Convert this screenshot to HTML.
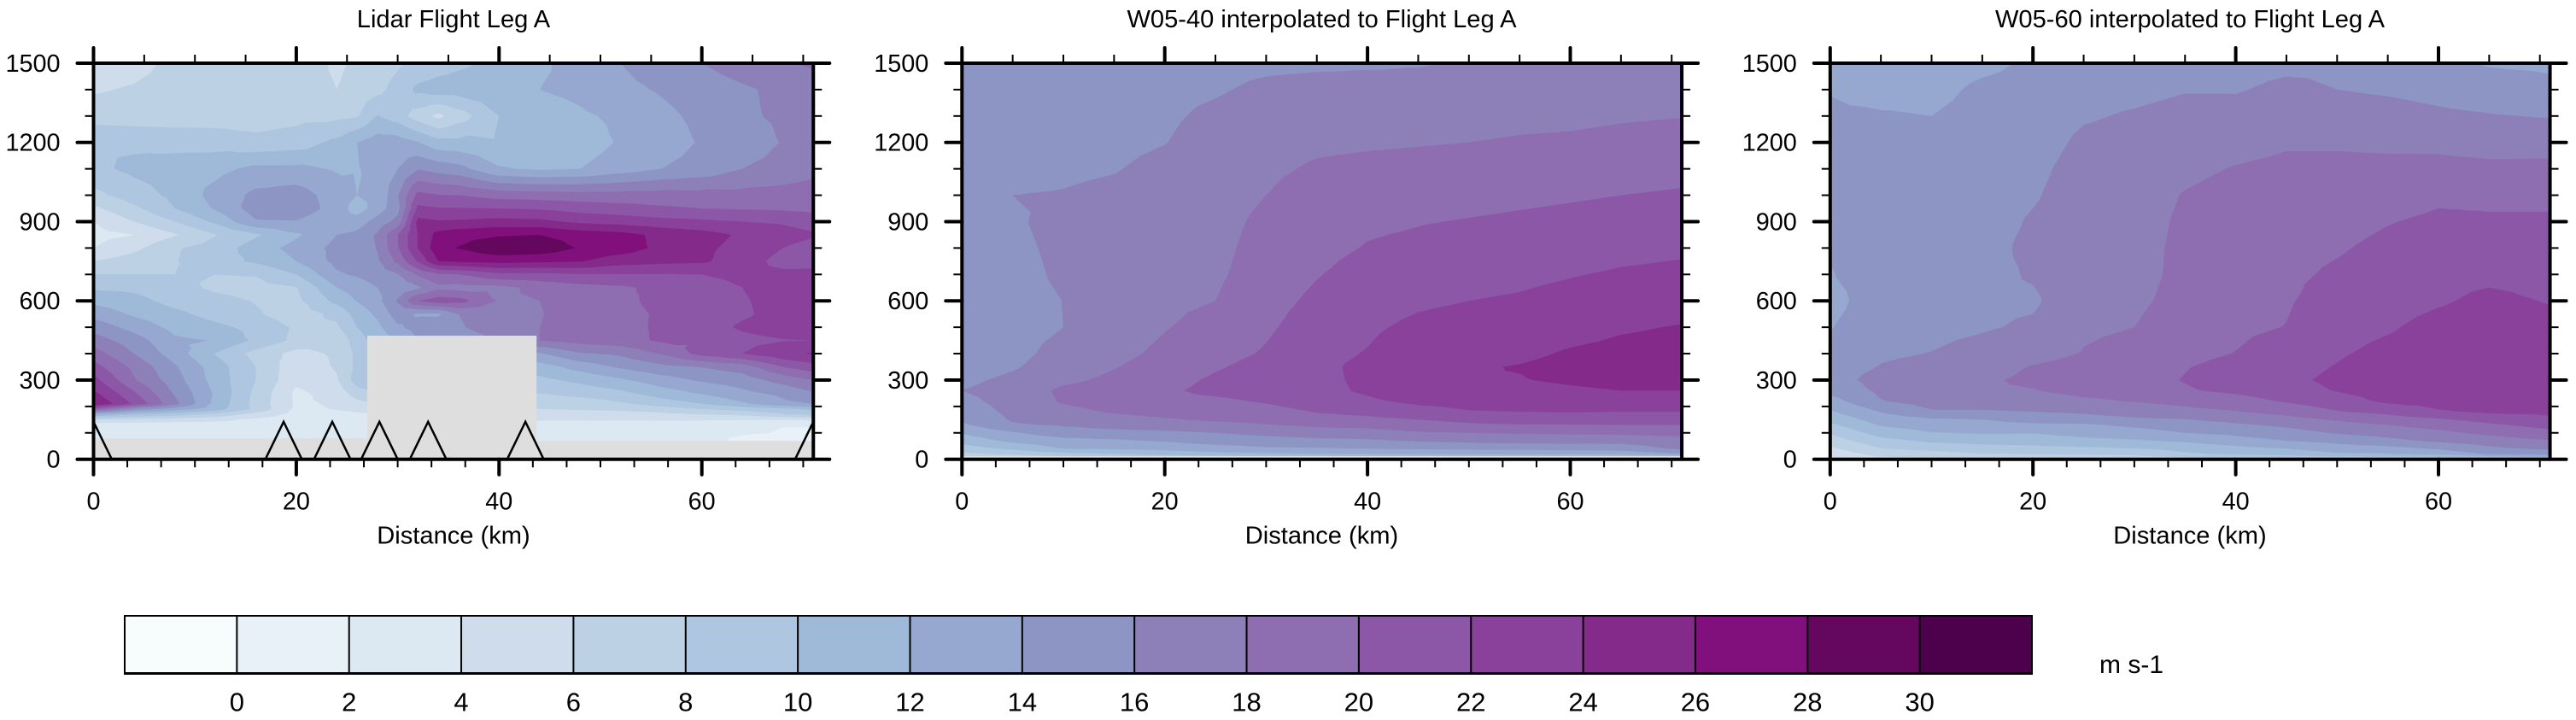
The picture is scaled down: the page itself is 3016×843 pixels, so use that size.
<!DOCTYPE html>
<html lang="en">
<head>
<meta charset="utf-8">
<title>Lidar and W05 wind speed cross sections, Flight Leg A</title>
<style>
html,body{margin:0;padding:0;background:#fff;width:3016px;height:843px;overflow:hidden}
svg{display:block}
text{font-family:"Liberation Sans",Arial,sans-serif;fill:#000}
</style>
</head>
<body>
<svg id="figure" xmlns="http://www.w3.org/2000/svg" width="3016" height="843" viewBox="0 0 3016 843">
  <g id="panel-0">
    <text x="531" y="32" font-size="29.1" text-anchor="middle">Lidar Flight Leg A</text>
    <text x="531" y="636.5" font-size="29.1" text-anchor="middle">Distance (km)</text>
  </g>
  <g id="panel-1">
    <text x="1547.5" y="32" font-size="29.1" text-anchor="middle">W05-40 interpolated to Flight Leg A</text>
    <text x="1547.5" y="636.5" font-size="29.1" text-anchor="middle">Distance (km)</text>
  </g>
  <g id="panel-2">
    <text x="2564" y="32" font-size="29.1" text-anchor="middle">W05-60 interpolated to Flight Leg A</text>
    <text x="2564" y="636.5" font-size="29.1" text-anchor="middle">Distance (km)</text>
  </g>
  <g id="colorbar">
    <text x="2458" y="788" font-size="30">m s-1</text>
  </g>
</svg>
<script>
// ---------- shared scale data ----------
const contourLevels = [0,2,4,6,8,10,12,14,16,18,20,22,24,26,28,30];
const bandColors = ['#f7fcfd','#e9f1f8','#dde9f2','#cedcec','#bdd1e5','#aec6df','#9fbad8','#96a8cf','#8d95c4','#8d80b9','#8e6db0','#8c57a7','#8a419b','#842a8b','#810f7c','#65065f','#4d004b'];
const xMajorTicks = [0,20,40,60];
const xMinorTicksTop = [5,10,15,25,30,35,45,50,55,65,70];
const xMinorTicksBottom = [3.333,6.667,10,13.333,16.667,23.333,26.667,30,33.333,36.667,43.333,46.667,50,53.333,56.667,63.333,66.667,70];
const yMajorTicks = [0,300,600,900,1200,1500];
const yMinorTicks = [100,200,400,500,700,800,1000,1100,1300,1400];
const colorbarTickLabels = ['0','2','4','6','8','10','12','14','16','18','20','22','24','26','28','30'];

// ---------- lidar panel data (rows by altitude, columns by distance) ----------
const lidarDistances = [0,4,8,12,16,20,24,26,28,30,32,34,36,40,44,48,52,56,60,64,68,71];
const lidarAltitudes = [1500,1400,1300,1200,1100,1000,950,900,850,800,750,700,650,600,550,500,450,400,350,300,250,210,190,170,150,135,80,60];
const lidarSpeedRows = [
[5,5.3,6.5,7,7.3,7.8,5.5,6.5,7,7.7,8.3,9,9.6,10.5,11.7,12.7,14,15,16,17,17.8,18.3],
[5.8,6.2,6.8,7,7.2,7.4,6,7,7.5,8.7,10.5,11,11,11.5,12,12.5,13.5,14.2,15,15.7,16.5,17],
[7,7,7,7,7,7.4,7.5,7.8,10.1,9,7,5.5,7,10,11,11.7,12.4,13.5,14.5,15.7,16.3,16.8],
[10,9.6,9.3,9.2,8.6,9,10.5,12,13,13,12.1,10.7,10.6,10.2,10.5,11,12.2,13,14.2,15,16.1,16.7],
[9.5,10.5,11,11.4,12.5,12.5,11.8,11.9,12.5,14,15.9,15.2,14.7,12.2,11.7,12,13,14,14.7,16,16.6,17.5],
[7.4,9,10.5,12.7,14.5,15,13,12,12.1,15.9,20.6,20.1,20,19.2,19,18.8,18.8,18.9,18.8,18.7,18.9,18.9],
[5.6,7.6,10,12.2,15,15.2,13.2,11,13,15.3,22.5,22.1,22.1,22,21.8,21.2,20.8,20.3,20,19.8,19.7,19.5],
[4,6,8,10.4,13.8,13.9,12.5,13,14.8,16.7,24.6,24.2,24.3,24.7,24.5,23.6,23.2,22.7,22.4,22,21.7,21],
[3.4,4,5.8,7.9,9.7,11.7,14,14.5,16.3,20,24.1,26.7,27.3,27.8,28,27.2,26.7,25.5,24.8,23.7,23,22.3],
[4,5.5,7.8,8.8,11,12.7,14.6,15,16.1,19.8,24.1,27.3,28.1,29.6,29.4,27.8,27,25.5,24.4,23.4,22,21],
[6,7,7.9,9.2,10.3,12,14.6,15,15.7,18.5,22.3,26,26.3,26.7,26.4,26.1,24.9,24.5,24.3,23,21.3,21],
[8,8,8,8,8.1,10,13.7,14.3,15,15.9,18.3,19.7,20,21.5,21.5,21.9,21.9,21.9,22,22.4,22.5,22.8],
[9.7,9.5,8.6,7.7,7.4,7.9,12,12.8,14,14.6,15.7,17.5,17.3,17.5,18.5,19.3,19.7,20.5,21.3,22,23,23.3],
[11.5,10.7,9.3,8.5,7.9,7.5,10.6,12.1,13.4,16.2,20,21,20.8,17.8,18,18.9,19.3,20.8,21,21.8,22.8,23],
[13.3,11.7,10.5,9.3,8.2,7,8.5,10.8,12.4,15,13.8,13.7,16,17,17.9,18.8,19.3,20.3,21,21.7,22.7,23.2],
[15.2,13.3,11.4,10.5,9.4,7.7,7.7,10,11.5,13.7,14.7,15.3,15.8,17,18,18.7,19.4,20.3,21,22.3,23,23],
[17,14.9,12.4,11.9,9.6,7.5,6.5,9,11,12,14,14.5,15,16,18,18.8,19.2,20.3,20.3,21.4,21.9,22],
[18.9,16,13,9.9,7.3,5.3,6.3,8.5,10,11,12,12.5,13,13.5,13.8,15.8,16.4,18.2,20.7,22,23.5,24.2],
[20.8,17.5,14.3,11,8,4.6,6.2,8.5,10,10.5,11,11,11,11,11.1,12.8,14.3,15.5,16.1,17,20,21.2],
[22.7,18.2,14.9,11.2,8,4.4,5.8,9,10,10,10,10,10,9.5,9.5,10.5,11.7,13.1,14.3,15,16.8,18],
[24.5,20.3,15.8,11.7,7.5,3.6,4.8,7,8,8,8,8,8,8,8,8.7,9.5,11,12.2,13.5,14.5,15.8],
[26,21.7,16.6,11.5,7.3,3.7,4.2,5.3,6,6,6,6,6,6,6.5,6.8,7.7,8.9,10,11.7,13.5,14],
[20,15,13,11,7.5,3.6,4.1,4.6,5,5,5,5,5,5,6,6.2,6.5,7,8,8.7,9.5,10.5],
[12,10,9,7.5,5.2,3.3,3.4,3.6,4,4,4,4,4,4,5,5,5,5.5,6,6.5,7.8,8.5],
[6,5.5,5,4.5,3.6,3.2,3.2,3.2,3.3,3.3,3.3,3.3,3.3,3.3,4.1,4.1,4.1,4.1,4.1,4.1,4.1,4.6],
[3.5,3.5,3.5,3.5,3.5,3.5,3.5,3.5,3.5,3.5,3.5,3.5,3.5,3.5,3.7,3.7,3.7,3.7,3.7,3,2.1,2.1],
[3,3,3,3,3,3,3,3,3,3,3,3,3,3,3,3,3,3,2.4,1.8,1.7,1.7],
[3,3,3,3,3,3,3,3,3,3,3,3,3,3,3,3,3,3,2.4,1.8,1.7,1.7]
];
const lidarGapStartKm = [0,27,43.7];
const lidarGapEndKm = [27,43.7,71];
const lidarGapTopAlt = [79,468,69];
const turbineKm = [0,18.75,23.55,28.2,33,42.6,71];
const turbineHeightAlt = [142];
const turbineHalfWidthKm = [1.8];

// ---------- model panel data (one profile per distance, top to bottom) ----------
const modelDistances = [0,5,10,15,20,25,30,35,40,45,50,55,60,65,71];
const modelAltitudes = [1500,1400,1300,1200,1100,1000,900,800,700,600,500,400,350,300,260,220,180,150,130,100,70,40,20,0];
const w0540Profiles = [
[15,15,15,15,15,15,14.8,14.6,14.3,14,14,14.6,15,15.6,16,15.5,14.8,14.2,13.7,12.2,10.8,9,7.5,4],
[15,15.1,15.2,15.3,15.5,16,15.7,15.5,15.3,15.2,15.3,15.5,15.8,16.4,16.7,16.7,16.5,16.2,15.8,13.8,12.5,10.4,8.5,5],
[15,15.1,15.2,15.4,15.7,16.1,16.7,16.5,16.35,16.03,16,16.6,17,17.6,18.4,18.2,17.5,16.7,16.2,15.1,13.3,12,9.5,6],
[15.1,15.2,15.4,15.6,15.9,16.4,16.6,16.7,16.8,16.9,17,17.5,17.9,18.4,18.9,18.7,18.2,17.3,16.7,15.4,13.7,12.2,10,6.5],
[15.3,15.5,15.7,15.95,16.5,16.9,17,17.2,17.4,17.6,17.9,18.4,18.8,19.3,19.7,19.5,18.7,17.8,17.1,15.6,14.2,12.6,10.8,7],
[15.4,15.8,16.4,16.8,17,17.2,17.4,17.5,17.7,18,18.7,19.3,19.8,20.3,20.5,19.6,19,18.3,17.4,16,15,13,11.4,7],
[15.6,16.4,16.9,17.3,17.7,18,18.4,18.7,18.9,19.3,19.7,20.2,20.7,21,20.9,20.2,19.3,18.6,17.9,16.5,15.2,13.7,11.6,7],
[15.7,16.6,17.2,17.7,18.2,18.7,19.1,19.5,19.9,20.4,21,21.5,21.6,21.5,21.4,21,20.1,19.3,18.4,17,15.5,13.8,12,7],
[15.8,16.6,17.2,17.8,18.4,19,19.7,20.1,20.7,21.2,21.7,22.1,22.4,22.4,22.3,21.7,20.6,19.5,18.6,17.2,15.7,14,12,7],
[15.9,16.5,17.2,17.9,18.5,19.2,19.9,20.4,21,21.7,22.4,23.1,23.5,23.6,23.2,22.4,21.3,20,19.2,17.8,16.2,14.2,12.2,7],
[16.1,16.7,17.3,18,18.6,19.4,20.1,20.8,21.4,22,22.7,23.3,23.8,23.9,23.5,22.6,21.9,20.5,19.7,18,16.5,14.4,12.3,7],
[16.3,16.9,17.5,18.2,18.8,19.6,20.3,20.9,21.6,22.2,22.9,23.6,24.1,23.9,23.3,22.8,22,20.9,19.9,18.2,16.7,14.5,12.4,7],
[16.5,17,17.6,18.3,19,19.8,20.5,21.1,21.9,22.6,23.3,24.2,24.6,24.3,23.7,23,22.1,21,19.9,18.3,16.8,14.7,12.5,7],
[16.7,17.1,17.8,18.5,19.2,20,20.7,21.5,22.2,23,23.8,24.5,24.9,24.6,24,23.2,22,21,20,18.4,16.8,14.8,12.6,7],
[16.9,17.3,17.95,18.7,19.5,20.2,21,21.7,22.4,23.2,24.1,24.7,25,24.6,24,23,22,21,20,18.7,17.3,16.4,13.8,7]
];
const w0540GapTopAlt = [12];
const w0560Profiles = [
[13,13.9,14.3,14.5,14.6,14.6,14.5,14.2,13.9,13.4,13.9,14.6,15.1,15.2,14.6,13.2,11.8,10.5,9.6,8.2,7,5.6,4.8,4],
[13,13.3,14.2,14.4,14.6,14.7,14.7,14.8,14.9,15,15.2,15.7,16.1,16.7,16.4,15.9,14.1,13,12.2,10.9,9.3,7.9,6.7,5.3],
[13,13.4,14,14.4,14.7,14.8,14.9,15,15.1,15.3,15.5,16.05,16.6,17.1,17.2,16.8,15.8,13.7,12.9,11.9,10.4,8.7,7,5.5],
[13.5,14.4,14.7,14.9,15,15.1,15.2,15.3,15.4,15.6,15.8,16.7,17.2,17.7,17.8,17,15.8,14,13.3,12.2,10.6,9.3,7.9,6],
[14.3,14.7,14.9,15.1,15.5,15.8,16.2,16.5,16.2,15.7,16.3,17.3,18.1,18.4,17.9,16.9,16,14.8,13.6,12.1,10.7,9.5,8.1,6.2],
[15,15.3,15.8,16.4,16.8,17,17.1,17.2,17.3,17.4,17.7,18.1,18.7,19.1,18.7,17.6,16.3,15.2,13.7,12.8,11.4,9.6,8.2,6.3],
[15.2,15.5,16.2,16.7,17,17.2,17.3,17.4,17.5,17.7,18,18.6,19,19.3,19,18.1,16.8,15.7,14.4,13.2,11.8,9.9,8.5,6.5],
[15.4,15.9,16.6,17,17.6,18.1,18.3,18.4,18.4,18.5,18.9,19.5,19.9,20.1,19.8,18.6,17.4,15.9,15,14,12.3,10.6,9.7,7],
[15.5,15.9,16.5,17.4,18.1,18.6,18.8,18.9,19,19.2,19.6,20.05,20.6,20.9,20.4,19.2,17.9,16.6,15.7,14.5,13.2,11.4,10.3,8],
[15.7,16.3,17,17.8,18.4,18.8,19.1,19.4,19.6,19.8,20.05,21,21.3,21.6,21.2,20.2,18.7,17.3,16.4,15.2,14,12,10.7,8],
[15.8,16,16.7,17.8,18.4,18.9,19.3,19.8,20.3,20.9,21.3,21.8,22.1,22.4,22.1,21,19.9,18.2,17.3,16.2,14.6,13,11.7,8],
[15.6,15.8,16.6,17.7,18.4,19,19.9,20.5,20.9,21.3,21.8,22.5,22.9,23.3,23,22.4,20.5,19.1,18,16.8,15.5,13.3,11.9,8],
[14.6,15.5,16.3,17.6,18.5,19.6,20.4,21,21.5,21.8,22.6,23,23.3,23.6,23.3,22.7,21.8,19.7,18.8,17.5,16.4,14.2,12.6,8],
[13.8,15.1,16.1,17.3,18.4,19.5,20.3,21,21.6,22.4,22.9,23.3,23.6,23.8,23.6,23,22.3,20.7,19.7,18.5,17,15.6,14.2,9],
[13.6,14.6,15.9,17.2,18.5,19.5,20.3,20.9,21.4,21.9,22.6,23.2,23.4,23.4,23.2,22.9,22.4,21.6,20.7,19.4,17.9,16.3,14.6,10]
];

// ---------- axis functions ----------
const SVGNS = 'http://www.w3.org/2000/svg';
const plotTop = 74, plotBottom = 537.7, plotKmMax = 71, plotAltMax = 1500, pxPerKm = 11.87;
const altToY = alt => plotBottom - alt * (plotBottom - plotTop) / plotAltMax;
const makeKmToX = x0 => km => x0 + km * pxPerKm;

function svgEl(tag, parent) {
  const el = document.createElementNS(SVGNS, tag);
  parent.appendChild(el);
  return el;
}
function addTick(parent, x1, y1, x2, y2, width, round) {
  const el = svgEl('line', parent);
  el.setAttribute('x1', x1); el.setAttribute('y1', y1);
  el.setAttribute('x2', x2); el.setAttribute('y2', y2);
  el.setAttribute('stroke', '#000');
  el.setAttribute('stroke-width', width);
  if (round) el.setAttribute('stroke-linecap', 'round');
  
  
  return el;
}
function addLabel(parent, x, y, size, anchor, str) {
  const el = svgEl('text', parent);
  el.setAttribute('x', x); el.setAttribute('y', y);
  el.setAttribute('font-size', size);
  el.setAttribute('text-anchor', anchor);
  el.textContent = str;
  
  
  return el;
}

// ---------- filled contours: clip every grid triangle against each level ----------
function clipTriangle(tri, level) {
  const out = [];
  for (let i = 0; i < 3; i++) {
    const a = tri[i], b = tri[(i + 1) % 3];
    const aIn = a[2] >= level, bIn = b[2] >= level;
    if (aIn) out.push(a);
    if (aIn !== bIn) {
      const t = (level - a[2]) / (b[2] - a[2]);
      out.push([a[0] + t * (b[0] - a[0]), a[1] + t * (b[1] - a[1]), level]);
    }
  }
  return out;
}
function bandPath(xs, ys, z, level, toX, toY) {
  const parts = [];
  for (let i = 0; i < xs.length - 1; i++) {
    for (let j = 0; j < ys.length - 1; j++) {
      const a = [toX(xs[i]), toY(ys[j]), z(i, j)];
      const b = [toX(xs[i + 1]), toY(ys[j]), z(i + 1, j)];
      const c = [toX(xs[i + 1]), toY(ys[j + 1]), z(i + 1, j + 1)];
      const d = [toX(xs[i]), toY(ys[j + 1]), z(i, j + 1)];
      const m = [(a[0] + c[0]) / 2, (a[1] + c[1]) / 2, (a[2] + b[2] + c[2] + d[2]) / 4];
      for (const tri of [[a, b, m], [b, c, m], [c, d, m], [d, a, m]]) {
        const poly = clipTriangle(tri, level);
        if (poly.length < 3) continue;
        parts.push('M' + poly.map(p => p[0].toFixed(2) + ' ' + p[1].toFixed(2)).join('L') + 'Z');
      }
    }
  }
  return parts.join('');
}

// ---------- panel builder ----------
function drawPanel(index, x0, xs, ys, z, gapStart, gapEnd, gapTop) {
  const panel = document.getElementById('panel-' + index);
  const toX = makeKmToX(x0);
  const left = toX(0), right = toX(plotKmMax);
  const clipId = 'plot-clip-' + index;
  const clip = svgEl('clipPath', panel);
  clip.setAttribute('id', clipId);
  const clipRect = svgEl('rect', clip);
  clipRect.setAttribute('x', left); clipRect.setAttribute('y', plotTop);
  clipRect.setAttribute('width', right - left); clipRect.setAttribute('height', plotBottom - plotTop);

  const field = svgEl('g', panel);
  field.setAttribute('clip-path', 'url(#' + clipId + ')');
  
  

  const base = svgEl('rect', field);
  base.setAttribute('x', left); base.setAttribute('y', plotTop);
  base.setAttribute('width', right - left); base.setAttribute('height', plotBottom - plotTop);
  base.setAttribute('fill', bandColors[0]);
  
  

  contourLevels.forEach((level, k) => {
    const d = bandPath(xs, ys, z, level, toX, altToY);
    if (!d) return;
    const p = svgEl('path', field);
    p.setAttribute('d', d);
    p.setAttribute('fill', bandColors[k + 1]);
    
    
  });

  gapStart.forEach((s, i) => {
    const r = svgEl('rect', field);
    r.setAttribute('x', toX(s));
    r.setAttribute('y', altToY(gapTop[i]));
    r.setAttribute('width', toX(gapEnd[i]) - toX(s));
    r.setAttribute('height', altToY(0) - altToY(gapTop[i]));
    r.setAttribute('fill', '#dedede');
    
    
  });

  if (index === 0) {
    turbineKm.forEach(km => {
      const t = svgEl('polyline', field);
      t.setAttribute('points',
        toX(km - turbineHalfWidthKm[0]) + ',' + altToY(0) + ' ' +
        toX(km) + ',' + altToY(turbineHeightAlt[0]) + ' ' +
        toX(km + turbineHalfWidthKm[0]) + ',' + altToY(0));
      t.setAttribute('fill', 'none');
      t.setAttribute('stroke', '#000');
      t.setAttribute('stroke-width', '2.5');
      
      
    });
  }

  const axes = svgEl('g', panel);
  
  
  // minor ticks
  xMinorTicksTop.forEach(km => addTick(axes, toX(km), plotTop, toX(km), plotTop - 10, 2));
  xMinorTicksBottom.forEach(km => addTick(axes, toX(km), plotBottom, toX(km), plotBottom + 9.5, 2));
  yMinorTicks.forEach(alt => {
    addTick(axes, left, altToY(alt), left - 10, altToY(alt), 2);
    addTick(axes, right, altToY(alt), right + 10, altToY(alt), 2);
  });
  // spines
  addTick(axes, left, plotTop, left, plotBottom, 4);
  addTick(axes, right, plotTop, right, plotBottom, 4);
  // major ticks
  xMajorTicks.forEach(km => {
    addTick(axes, toX(km), plotTop, toX(km), plotTop - 18, 4, true);
    addTick(axes, toX(km), plotBottom, toX(km), plotBottom + 18, 4, true);
    addLabel(axes, toX(km), 596.7, 28.8, 'middle', String(km));
  });
  yMajorTicks.forEach(alt => {
    addTick(axes, left - 19, altToY(alt), left, altToY(alt), 4, true);
    addTick(axes, right, altToY(alt), right + 19, altToY(alt), 4, true);
    addLabel(axes, left - 39, altToY(alt) + 10, 28.8, 'end', String(alt));
  });
  addTick(axes, left, plotTop, right, plotTop, 4);
  addTick(axes, left, plotBottom, right, plotBottom, 4);
}

drawPanel(0, 109.5, lidarDistances, lidarAltitudes, (i, j) => lidarSpeedRows[j][i], lidarGapStartKm, lidarGapEndKm, lidarGapTopAlt);
drawPanel(1, 1126.3, modelDistances, modelAltitudes, (i, j) => w0540Profiles[i][j], [0], [71], w0540GapTopAlt);
drawPanel(2, 2142.8, modelDistances, modelAltitudes, (i, j) => w0560Profiles[i][j], [], [], []);

// ---------- colorbar ----------
(function () {
  const bar = document.getElementById('colorbar');
  const barLeft = 146, barRight = 2379, barTop = 721, barBottom = 788.5;
  const cellWidth = (barRight - barLeft) / bandColors.length;
  bandColors.forEach((color, i) => {
    const r = svgEl('rect', bar);
    r.setAttribute('x', barLeft + i * cellWidth);
    r.setAttribute('y', barTop);
    r.setAttribute('width', cellWidth + 0.5);
    r.setAttribute('height', barBottom - barTop);
    r.setAttribute('fill', color);
    
    
  });
  colorbarTickLabels.forEach((label, i) => {
    const x = barLeft + (i + 1) * cellWidth;
    addTick(bar, x, barTop, x, barBottom, 2);
    addLabel(bar, x, 832.5, 31, 'middle', label);
  });
  addTick(bar, barLeft, barTop - 1, barLeft, barBottom + 1.5, 2);
  addTick(bar, barRight, barTop - 1, barRight, barBottom + 1.5, 2);
  addTick(bar, barLeft - 1, barTop, barRight + 1, barTop, 2);
  addTick(bar, barLeft - 1, barBottom, barRight + 1, barBottom, 3);
})();
</script>
</body>
</html>
